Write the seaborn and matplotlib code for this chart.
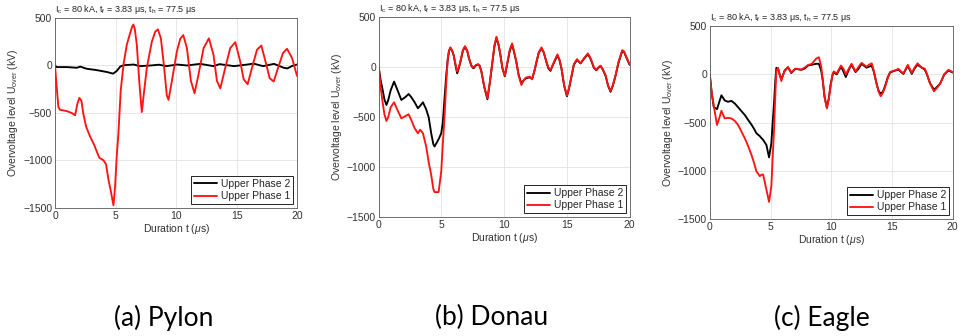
import matplotlib
matplotlib.use("Agg")
import matplotlib.pyplot as plt
import seaborn as sns

# ---------------- data (time in us, overvoltage in kV) ----------------
pylon_t1 = [0, 0.14, 0.28, 0.41, 0.97, 1.38, 1.66, 1.85, 2.01, 2.18, 2.34, 2.57, 2.9, 3.23,
            3.5, 3.67, 4.0, 4.22, 4.41, 4.63, 4.83, 4.97, 5.1, 5.24, 5.43, 5.66, 5.93, 6.2,
            6.38, 6.48, 6.6, 6.76, 6.98, 7.17, 7.37, 7.59, 8.0, 8.28, 8.5, 8.75, 9.02, 9.24,
            9.38, 9.66, 10.07, 10.35, 10.6, 10.9, 11.23, 11.53, 11.86, 12.28, 12.72, 13.1,
            13.38, 13.66, 14.07, 14.48, 14.9, 15.3, 15.59, 15.92, 16.28, 16.69, 17.05, 17.46,
            17.74, 18.07, 18.48, 18.84, 19.17, 19.59, 20]
pylon_phase1 = [0, -231, -438, -466, -480, -500, -524, -403, -341, -369, -507, -645, -748, -834,
                -921, -972, -997, -1041, -1197, -1334, -1472, -1266, -955, -714, -265, 10, 217, 338,
                410, 431, 380, 217, -197, -490, -265, -24, 250, 355, 380, 286, -24, -317,
                -362, -162, 148, 280, 320, 183, -162, -293, -93, 183, 286, 110,
                -162, -241, -24, 183, 245, 45, -145, -197, -24, 165, 210, 10,
                -134, -169, -7, 131, 176, 79, -110]

pylon_t2 = [0, 0.15, 1.0, 1.8, 2.1, 2.6, 3.4, 4.3, 4.8, 5.1, 5.4, 5.7, 6.5, 7.0, 7.9, 8.6,
            9.2, 10.1, 10.9, 12.0, 13.1, 13.6, 14.8, 15.9, 16.4, 17.2, 18.1, 18.9, 19.2, 19.6, 20]
pylon_phase2 = [0, -17, -17, -24, -12, -34, -48, -69, -86, -58, -10, 3, 10, -7, 0, 8,
                -7, 10, 0, 17, -7, 14, -7, 10, 20, -7, 17, -24, -31, -5, 10]

donau_t = [0, 0.15, 0.3, 0.45, 0.61, 0.75, 0.95, 1.22, 1.5, 1.8, 2.1, 2.38, 2.6, 2.86, 3.12,
           3.3, 3.52, 3.78, 3.98, 4.18, 4.35, 4.45, 4.77, 4.98, 5.1, 5.25, 5.38, 5.5, 5.6,
           5.71, 5.85, 5.98, 6.12, 6.25, 6.38, 6.5, 6.7, 6.87, 7.05, 7.2, 7.38, 7.55, 7.75,
           7.92, 8.05, 8.18, 8.42, 8.66, 8.85, 9.06, 9.22, 9.38, 9.55, 9.7, 9.85, 10.05,
           10.25, 10.45, 10.63, 10.8, 10.97, 11.15, 11.37, 11.55, 11.72, 12.04, 12.22, 12.4,
           12.57, 12.75, 12.97, 13.15, 13.37, 13.52, 13.69, 13.85, 13.98, 14.24, 14.4, 14.56,
           14.78, 15.0, 15.18, 15.35, 15.55, 15.8, 16.09, 16.35, 16.67, 16.85, 16.99, 17.15,
           17.34, 17.5, 17.68, 17.85, 18.08, 18.28, 18.48, 18.68, 18.88, 19.1, 19.41, 19.55,
           19.73, 20]
donau_phase1 = [0, -200, -343, -470, -537, -500, -400, -350, -430, -510, -490, -470, -530, -610, -660,
                -625, -660, -793, -950, -1077, -1220, -1250, -1250, -1043, -780, -477, -150, 90, 170,
                200, 170, 123, 30, -43, 0, 57, 170, 213, 170, 90, 20, -3, 25,
                30, 10, -43, -200, -310, -150, 57, 220, 307, 230, 123, 0, -87,
                50, 180, 240, 150, 57, -80, -177, -130, -103, -93, -120, -40,
                57, 150, 200, 150, 57, 0, -27, 20, 57, 130, 80, -3,
                -180, -283, -200, -93, 30, 83, 40, 90, 140, 100, 57, 0,
                -27, 0, 17, -20, -77, -180, -237, -170, -77, 50, 173, 160,
                107, 30]
donau_phase2 = [0, -130, -220, -320, -377, -330, -230, -143, -230, -327, -300, -267, -300, -350, -410,
                -385, -350, -420, -500, -660, -770, -793, -720, -660, -560, -300, -77, 80, 165,
                195, 165, 115, 20, -60, -10, 50, 165, 205, 165, 85, 15, -10, 20,
                30, 15, -40, -200, -320, -160, 50, 210, 295, 225, 120, -5, -90,
                40, 170, 230, 145, 50, -75, -160, -130, -110, -100, -115, -40,
                50, 145, 190, 150, 50, -10, -35, 15, 50, 120, 75, -10,
                -185, -290, -205, -100, 25, 75, 40, 85, 130, 95, 50, -5,
                -30, -5, 15, -20, -85, -185, -245, -175, -80, 40, 165, 155,
                100, 25]

eagle_t = [0, 0.15, 0.33, 0.6, 0.82, 0.96, 1.23, 1.5, 1.78, 2.05, 2.33, 2.6, 2.88, 3.15, 3.43,
           3.65, 3.84, 4.12, 4.25, 4.39, 4.5, 4.66, 4.88, 5.07, 5.18, 5.29, 5.4, 5.48, 5.62,
           5.75, 5.89, 6.02, 6.16, 6.44, 6.71, 7.04, 7.53, 7.8, 8.08, 8.4, 8.76, 8.98, 9.17,
           9.3, 9.45, 9.64, 9.8, 9.94, 10.1, 10.21, 10.45, 10.8, 11.0, 11.2, 11.45, 11.67,
           12.0, 12.25, 12.5, 12.9, 13.1, 13.33, 13.5, 13.74, 13.9, 14.07, 14.25, 14.43,
           14.65, 14.84, 15.05, 15.25, 15.53, 15.75, 15.94, 16.3, 16.63, 16.85, 17.1, 17.45,
           17.7, 17.86, 18.13, 18.46, 18.7, 18.96, 19.3, 19.64, 20]
eagle_phase1 = [0, -180, -325, -524, -438, -377, -456, -450, -456, -480, -524, -590, -661, -740, -833,
                -920, -1004, -1055, -1040, -1038, -1100, -1192, -1322, -1158, -850, -575, -200, 34, 68,
                0, -69, -10, 34, 75, 20, 60, 50, 70, 96, 110, 164, 178, 85,
                -60, -233, -353, -250, -130, 0, 31, 10, 92, 60, 0, 60, 110,
                30, 80, 120, 80, 100, 115, 40, -100, -180, -226, -190, -130,
                -40, 24, 35, 41, 58, 30, 10, 99, 15, 70, 115, 70,
                60, 10, -96, -175, -140, -96, 0, 48, 24]
eagle_phase2 = [0, -180, -340, -360, -270, -216, -270, -284, -274, -300, -340, -380, -420, -470, -520,
                -565, -610, -640, -660, -678, -700, -730, -860, -712, -500, -301, -60, 68, 58,
                0, -45, -10, 40, 75, 14, 58, 48, 60, 92, 100, 110, 110, 40,
                -60, -233, -342, -250, -110, -10, 24, 0, 80, 30, -27, 50, 100,
                24, 60, 110, 70, 80, 90, 30, -100, -170, -200, -180, -120,
                -30, 20, 30, 40, 50, 25, 5, 90, 5, 60, 100, 70,
                50, 5, -90, -160, -130, -96, 0, 40, 20]

captions = ["(a) Pylon", "(b) Donau", "(c) Eagle"]
series_labels = ["Upper Phase 2", "Upper Phase 1"]
x_ticks = [0, 5, 10, 15, 20]
y_ticks = [-1500, -1000, -500, 0, 500]
title = (r"I$_\mathregular{c}$ = 80 kA, t$_\mathregular{f}$ = 3.83 μs, "
         r"t$_\mathregular{h}$ = 77.5 μs")

# ---------------- style ----------------
sns.set_theme(style="whitegrid")
plt.rcParams.update({
    "font.family": ["Liberation Sans", "DejaVu Sans"],
    "mathtext.fontset": "custom",
    "mathtext.rm": "Liberation Sans",
    "mathtext.it": "Liberation Sans:italic",
    "mathtext.bf": "Liberation Sans:bold",
})

fig = plt.figure(figsize=(9.65, 3.36), dpi=100)

panels = [
    ([0.057, 0.381, 0.2508, 0.5655], (pylon_t2, pylon_phase2), (pylon_t1, pylon_phase1)),
    ([0.3925, 0.354, 0.2600, 0.5940], (donau_t, donau_phase2), (donau_t, donau_phase1)),
    ([0.7355, 0.348, 0.2518, 0.5740], (eagle_t, eagle_phase2), (eagle_t, eagle_phase1)),
]
caption_x = [0.170, 0.509, 0.852]

for (pos, black, red), cap, cx in zip(panels, captions, caption_x):
    ax = fig.add_axes(pos)
    sns.lineplot(x=black[0], y=black[1], ax=ax, color="black", lw=1.35,
                 label=series_labels[0], estimator=None)
    sns.lineplot(x=red[0], y=red[1], ax=ax, color="#ff1414", lw=1.35,
                 label=series_labels[1], estimator=None)

    ax.set_xlim(0, 20)
    ax.set_ylim(-1500, 500)
    ax.set_xticks(x_ticks)
    ax.set_yticks(y_ticks)
    ax.grid(True, color="#e2e2e2", lw=0.6)
    for sp in ax.spines.values():
        sp.set_visible(True)
        sp.set_color("#5a5a5a")
        sp.set_linewidth(0.6)
    ax.tick_params(labelsize=7.5, colors="#333333", pad=2, direction="in",
                   length=2.5, width=0.5)
    ax.set_xlabel(r"Duration t ($\mu$s)", fontsize=7.5, color="#333333", labelpad=1)
    ax.set_ylabel(r"Overvoltage level U$_\mathregular{over}$ (kV)", fontsize=7.5,
                  color="#333333", labelpad=2)
    ax.text(0.0, 1.012, title, transform=ax.transAxes, fontsize=6.5,
            ha="left", va="bottom", color="#222222")

    leg = ax.legend(loc="lower right", fontsize=7.5, frameon=True, fancybox=False,
                    edgecolor="black", framealpha=1, borderaxespad=0.35,
                    handlelength=2.2, handletextpad=0.35, borderpad=0.3,
                    labelspacing=0.2)
    leg.get_frame().set_linewidth(0.6)

    fig.text(cx, 0.054, cap, ha="center", va="center", fontsize=19,
             family=["Lato", "DejaVu Sans"], color="black")

fig.savefig("out.png", dpi=100, facecolor="white")
